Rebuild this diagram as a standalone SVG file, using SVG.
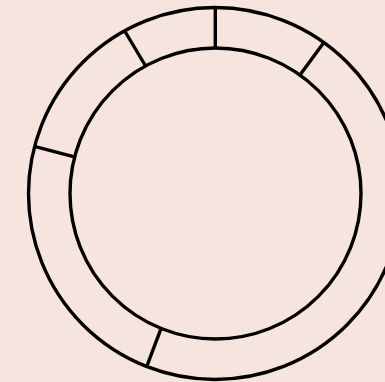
<svg xmlns="http://www.w3.org/2000/svg" width="385" height="382" viewBox="0 0 385 382">
<style>
.s{fill:none;stroke:#000;stroke-width:3.4;stroke-linecap:butt}
</style>
<rect x="0" y="0" width="385" height="382" fill="#f6e5df"/>
<g id="ring">
<ellipse class="s" cx="215" cy="193.5" rx="186.5" ry="186"/>
<ellipse class="s" cx="215.5" cy="193.5" rx="145.5" ry="145.5"/>
</g>
<g id="dividers">
<line class="s" x1="215.3" y1="8" x2="215.3" y2="48"/>
<line class="s" x1="124.7" y1="31" x2="145.3" y2="65.5"/>
<line class="s" x1="323.3" y1="43.3" x2="300.7" y2="74"/>
<line class="s" x1="35.3" y1="146.7" x2="73.5" y2="156.7"/>
<line class="s" x1="146.7" y1="366.7" x2="160.7" y2="329.3"/>
</g>
</svg>
